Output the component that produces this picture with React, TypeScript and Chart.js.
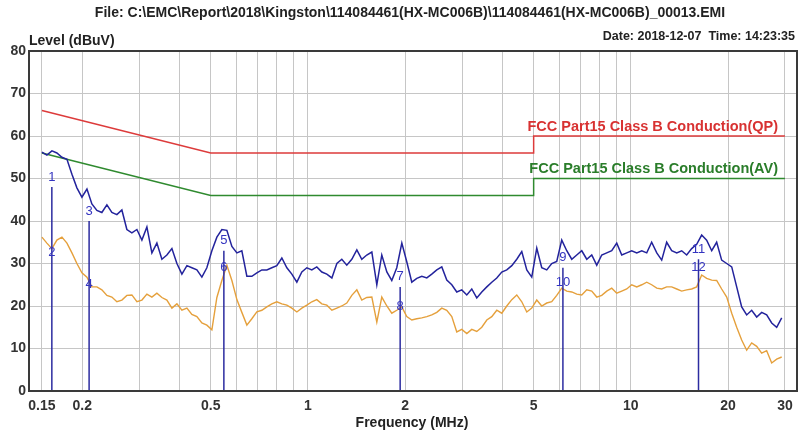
import React, { useEffect, useRef } from "react";
import { Chart, registerables } from "chart.js";

Chart.register(...registerables);

const TITLE = "File: C:\\EMC\\Report\\2018\\Kingston\\114084461(HX-MC006B)\\114084461(HX-MC006B)_00013.EMI";
const DATE_TEXT = "Date: 2018-12-07  Time: 14:23:35";

const FREQS = [
  0.150, 0.1554, 0.1611, 0.1669, 0.1730, 0.1793, 0.1858, 0.1925, 0.1995, 0.2068,
  0.2142, 0.2220, 0.2300, 0.2384, 0.2470, 0.2560, 0.2653, 0.2749, 0.2849, 0.2953,
  0.3060, 0.3171, 0.3286, 0.3405, 0.3529, 0.3657, 0.3790, 0.3928, 0.4070, 0.4218,
  0.4370, 0.4529, 0.4693, 0.4863, 0.5040, 0.5223, 0.5412, 0.5609, 0.5813, 0.6024,
  0.6241, 0.6468, 0.6702, 0.6946, 0.7198, 0.7459, 0.7729, 0.8010, 0.8301, 0.8603,
  0.8914, 0.9238, 0.9573, 0.9920, 1.028, 1.065, 1.104, 1.144, 1.186, 1.229,
  1.273, 1.319, 1.367, 1.417, 1.468, 1.521, 1.577, 1.634, 1.693, 1.755,
  1.818, 1.884, 1.953, 2.023, 2.097, 2.173, 2.252, 2.334, 2.418, 2.506,
  2.597, 2.691, 2.789, 2.890, 2.995, 3.104, 3.216, 3.333, 3.454, 3.580,
  3.709, 3.844, 3.983, 4.128, 4.278, 4.433, 4.594, 4.761, 4.933, 5.112,
  5.297, 5.489, 5.688, 5.895, 6.109, 6.331, 6.561, 6.799, 7.046, 7.302,
  7.566, 7.841, 8.125, 8.420, 8.726, 9.042, 9.371, 9.711, 10.06, 10.43,
  10.81, 11.20, 11.60, 12.03, 12.46, 12.91, 13.38, 13.87, 14.37, 14.89,
  15.43, 15.99, 16.57, 17.17, 17.80, 18.44, 19.11, 19.81, 20.53, 21.27,
  22.04, 22.84, 23.67, 24.53, 25.42, 26.34, 27.30, 28.29, 29.32,
];

const PEAK = [
  56.2, 55.5, 56.5, 56, 55, 54.5, 51, 47.8, 45.6, 47.5,
  44, 42.5, 42, 43.8, 42, 41.5, 42.6, 38, 37.2, 38,
  35.5, 38.6, 32.5, 34.8, 31, 32, 33.5, 30, 27.5, 29.5,
  29, 28.5, 26.8, 29, 33, 36.2, 38, 37.8, 34, 32.5,
  33, 27, 27, 27.8, 28.5, 28.5, 29, 29.5, 31.3, 29,
  27.5, 25.6, 28, 29, 28.5, 29.2, 28, 27.5, 26.6, 30,
  31, 29.6, 31, 33.2, 31, 32, 32.7, 25, 32, 28,
  26, 29, 34.8, 30.4, 25.6, 26.5, 27, 26.6, 27.5, 28.5,
  29.2, 26.1, 25, 23.3, 23.8, 22.6, 24, 21.9, 23.3, 24.5,
  25.6, 26.6, 28, 28.5, 29.5, 31, 32.8, 28.5, 26.8, 33.6,
  29, 28.5, 30, 30.5, 35.5, 33, 31, 32, 33, 31,
  32, 29.6, 32, 32.5, 33, 34.8, 32, 32.5, 33, 32.5,
  33, 32.5, 35, 32.5, 30.8, 35, 33, 32.5, 33, 32,
  33.5, 34.5, 36.7, 35.5, 33, 35, 30.8, 30, 29.2, 24.5,
  19.8, 17.9, 19, 17.4, 18.5, 17.9, 16, 15, 17.2,
];

const AVG = [
  36.2, 34.8, 33.5, 35.5, 36.2, 34.8, 32.5, 30, 27.8, 26.8,
  24.5, 24.5, 23.8, 22.5, 22.1, 21, 21.4, 22.5, 22.6, 21,
  21.4, 22.8, 22.1, 23, 22, 21.4, 19.5, 20.5, 19, 19.5,
  18, 17.5, 16, 15.5, 14.4, 22, 26, 29.6, 26, 21.5,
  18.5, 15.5, 17, 18.6, 19, 19.8, 20.5, 21, 20.5, 20.2,
  19.5, 18.6, 19.5, 20.2, 21, 21.5, 20.5, 20.2, 19, 19.5,
  20, 20.7, 22.5, 23.8, 21.4, 22, 22.1, 16.2, 22.1, 20,
  18.3, 19, 19.8, 17.5, 16.7, 17, 17.2, 17.5, 17.9, 18.5,
  19.5, 19, 17.5, 13.9, 14.5, 13.5, 14.5, 14, 15, 16.7,
  17.5, 19, 18.3, 20, 21.5, 22.6, 21, 18.6, 19.5, 21.4,
  20, 20.7, 21, 22.5, 24.2, 23.5, 23.3, 22.8, 22.6, 23.8,
  23.5, 22.1, 22.5, 23.5, 24.2, 23, 23.5, 24, 25, 24.5,
  25, 25.6, 25, 24.2, 24, 24.5, 24.5, 24, 23.5, 23.8,
  24, 24.5, 27.3, 26.5, 26.1, 26, 24, 22.1, 18.3, 15,
  12, 9.6, 11.3, 10.5, 8.9, 9.5, 6.6, 7.5, 8,
];

const QP_LIMIT_FREQS = [0.15, 0.5, 5, 5, 30];
const QP_LIMIT_LEVELS = [66, 56, 56, 60, 60];
const AV_LIMIT_FREQS = [0.15, 0.5, 5, 5, 30];
const AV_LIMIT_LEVELS = [56, 46, 46, 50, 50];
const QP_LIMIT_NAME = "FCC Part15 Class B Conduction(QP)";
const AV_LIMIT_NAME = "FCC Part15 Class B Conduction(AV)";

const MARKER_NAMES = ["1", "2", "3", "4", "5", "6", "7", "8", "9", "10", "11", "12"];
const MARKER_FREQS = [0.161, 0.161, 0.21, 0.21, 0.549, 0.549, 1.93, 1.93, 6.16, 6.16, 16.2, 16.2];
const MARKER_LEVELS = [48, 32.5, 40, 25, 33, 29, 24.5, 19.8, 29, 25.5, 31, 29];

const X_GRID = [0.15, 0.2, 0.3, 0.4, 0.5, 0.6, 0.7, 0.8, 0.9, 1, 2, 3, 4, 5, 6, 7, 8, 9, 10, 20, 30];
const X_LABELS = [0.15, 0.2, 0.5, 1, 2, 5, 10, 20, 30];

const FONT = '"Liberation Sans", Arial, sans-serif';

export default function App() {
  const ref = useRef<HTMLCanvasElement | null>(null);

  useEffect(() => {
    const canvas = ref.current;
    if (!canvas) return;

    const markerSets: any[] = [];
    for (let i = 0; i < MARKER_FREQS.length; i += 2) {
      const top = Math.max(MARKER_LEVELS[i], MARKER_LEVELS[i + 1]);
      markerSets.push({
        data: [
          { x: MARKER_FREQS[i], y: 0 },
          { x: MARKER_FREQS[i], y: top },
        ],
        borderColor: "#2c2ca0",
        borderWidth: 1.5,
        pointRadius: 0,
        order: 0,
      });
    }

    const textPlugin = {
      id: "emcText",
      afterDatasetsDraw(chart: any) {
        const { ctx, chartArea, scales } = chart;
        const xs = scales.x;
        const ys = scales.y;
        ctx.save();
        ctx.font = `13px ${FONT}`;
        ctx.fillStyle = "#3434c0";
        ctx.textAlign = "center";
        ctx.textBaseline = "middle";
        MARKER_NAMES.forEach((name, i) => {
          const px = xs.getPixelForValue(MARKER_FREQS[i]);
          const py = ys.getPixelForValue(MARKER_LEVELS[i]);
          const off = i % 2 === 0 ? -10 : 0;
          ctx.fillText(name, px, py + off);
        });
        ctx.font = `bold 14.5px ${FONT}`;
        ctx.textAlign = "right";
        ctx.textBaseline = "bottom";
        ctx.fillStyle = "#d83232";
        ctx.fillText(QP_LIMIT_NAME, chartArea.right - 19, ys.getPixelForValue(60) - 2);
        ctx.fillStyle = "#2a7d2a";
        ctx.fillText(AV_LIMIT_NAME, chartArea.right - 19, ys.getPixelForValue(50) - 2);
        ctx.restore();
      },
      afterDraw(chart: any) {
        const { ctx, chartArea } = chart;
        ctx.save();
        ctx.strokeStyle = "#3a3a3a";
        ctx.lineWidth = 2;
        ctx.strokeRect(chartArea.left, chartArea.top, chartArea.right - chartArea.left, chartArea.bottom - chartArea.top);
        ctx.fillStyle = "#222";
        ctx.font = `bold 14px ${FONT}`;
        ctx.textBaseline = "middle";
        ctx.textAlign = "center";
        ctx.fillText(TITLE, 410, 13);
        ctx.textAlign = "right";
        ctx.font = `bold 12.5px ${FONT}`;
        ctx.fillText(DATE_TEXT, chartArea.right - 2, 37);
        ctx.textAlign = "left";
        ctx.font = `bold 14px ${FONT}`;
        ctx.fillText("Level (dBuV)", chartArea.left, 41);
        ctx.textAlign = "center";
        ctx.fillText("Frequency (MHz)", 412, 423);
        ctx.restore();
      },
    };

    const chart = new Chart(canvas, {
      type: "line",
      data: {
        datasets: [
          ...markerSets,
          {
            data: FREQS.map((f, i) => ({ x: f, y: PEAK[i] })),
            borderColor: "#23239c",
            borderWidth: 1.5,
            pointRadius: 0,
            order: 1,
          },
          {
            data: FREQS.map((f, i) => ({ x: f, y: AVG[i] })),
            borderColor: "#e5a03c",
            borderWidth: 1.4,
            pointRadius: 0,
            order: 2,
          },
          {
            data: QP_LIMIT_FREQS.map((f, i) => ({ x: f, y: QP_LIMIT_LEVELS[i] })),
            borderColor: "#dd3b3b",
            borderWidth: 1.5,
            pointRadius: 0,
            order: 3,
          },
          {
            data: AV_LIMIT_FREQS.map((f, i) => ({ x: f, y: AV_LIMIT_LEVELS[i] })),
            borderColor: "#2f8a2f",
            borderWidth: 1.5,
            pointRadius: 0,
            order: 3,
          },
        ],
      },
      options: {
        responsive: false,
        animation: false,
        events: [],
        layout: { padding: { top: 51, right: 4, left: 0, bottom: 0 } },
        plugins: { legend: { display: false }, tooltip: { enabled: false }, title: { display: false } },
        scales: {
          x: {
            type: "logarithmic",
            min: 0.1368,
            max: 32.7,
            afterBuildTicks: (scale: any) => {
              scale.ticks = X_GRID.map((v) => ({ value: v }));
            },
            afterFit: (scale: any) => {
              scale.height = 43;
            },
            grid: { color: "#c6c6c6", lineWidth: 1, drawTicks: false },
            border: { display: false },
            ticks: {
              autoSkip: false,
              maxRotation: 0,
              minRotation: 0,
              padding: 7,
              color: "#333",
              font: { family: FONT, size: 14, weight: "bold" },
              callback: (v: any) => (X_LABELS.includes(Number(v)) ? String(v) : ""),
            },
          },
          y: {
            min: 0,
            max: 80,
            afterFit: (scale: any) => {
              scale.width = 29;
            },
            grid: { color: "#c6c6c6", lineWidth: 1, drawTicks: false },
            border: { display: false },
            ticks: {
              stepSize: 10,
              padding: 3,
              color: "#333",
              font: { family: FONT, size: 14, weight: "bold" },
            },
          },
        },
      },
      plugins: [textPlugin],
    } as any);

    return () => chart.destroy();
  }, []);

  return (
    <div style={{ position: "fixed", left: 0, top: 0, width: 801, height: 434, background: "#fff" }}>
      <canvas ref={ref} width={801} height={434} style={{ width: 801, height: 434, display: "block" }} />
    </div>
  );
}
